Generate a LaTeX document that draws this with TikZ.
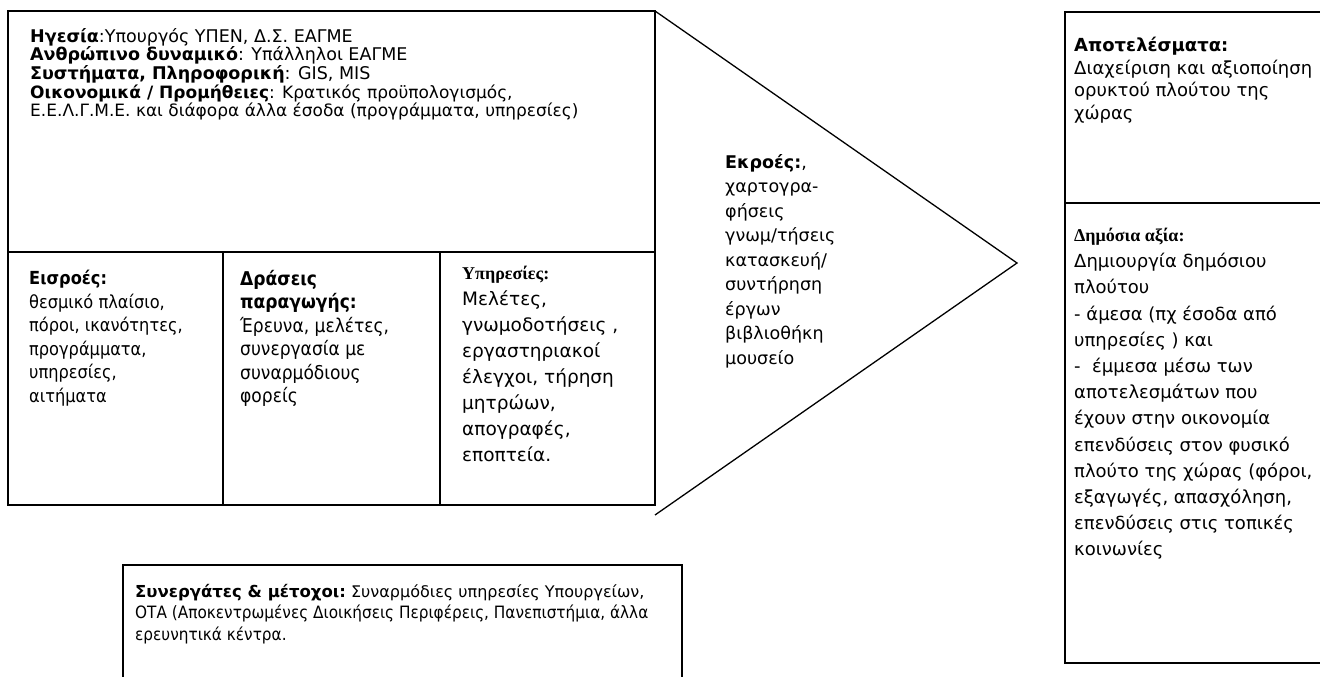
\documentclass[tikz,border=0pt]{standalone}
\usepackage{fontspec}
\setmainfont{DejaVu Sans}
\newfontfamily\tah[FakeStretch=0.9]{DejaVu Sans}
\newfontfamily\ver{DejaVu Sans}
\newfontfamily\tms{Liberation Serif}
\begin{document}
\begin{tikzpicture}[x=1pt,y=-1pt,
  boxline/.style={line width=1.6pt,black},
  triline/.style={line width=1.3pt,black},
  txt/.style={anchor=north west,inner sep=0pt,align=left}]
\useasboundingbox (0,0) rectangle (1320,677);
% frames
\draw[boxline] (8,11) rectangle (655,505);
\draw[boxline] (8,252) -- (655,252);
\draw[boxline] (223,252) -- (223,505);
\draw[boxline] (440,252) -- (440,505);
\draw[triline] (655,11) -- (1017,263) -- (655,515);
\draw[boxline] (1335,12) -- (1065,12) -- (1065,663) -- (1335,663);
\draw[boxline] (1065,203) -- (1335,203);
\draw[boxline] (123,690) -- (123,565) -- (682,565) -- (682,690);
% texts
\node[txt,font={\ver\fontsize{17.5}{18.7}\selectfont}] (lead) at (30,28) {%
\textbf{Ηγεσία}:Υπουργός ΥΠΕΝ, Δ.Σ. ΕΑΓΜΕ\\
\textbf{Ανθρώπινο δυναμικό}: Υπάλληλοι ΕΑΓΜΕ\\
\textbf{Συστήματα, Πληροφορική}: GIS, MIS\\
{\fontsize{17}{18.7}\selectfont\textbf{Οικονομικά / Προμήθειες}: Κρατικός προϋπολογισμός,}\\
{\fontsize{17}{18.7}\selectfont Ε.Ε.Λ.Γ.Μ.Ε. και διάφορα άλλα έσοδα (προγράμματα, υπηρεσίες)}};
\node[txt,font={\tah\fontsize{18}{23.5}\selectfont}] (inputs) at (29,270) {%
\textbf{Εισροές:}\\ θεσμικό πλαίσιο,\\ πόροι, ικανότητες,\\ προγράμματα,\\ υπηρεσίες,\\ αιτήματα};
\node[txt,font={\tah\fontsize{19}{23.5}\selectfont}] (actions) at (240,270) {%
\textbf{Δράσεις}\\ \textbf{παραγωγής:}\\ Έρευνα, μελέτες,\\ συνεργασία με\\ συναρμόδιους\\ φορείς};
\node[txt,font={\ver\fontsize{18.5}{26}\selectfont}] (services) at (462,266) {%
{\tms\bfseries\fontsize{18}{26}\selectfont Υπηρεσίες:}\\ Μελέτες,\\ γνωμοδοτήσεις ,\\ εργαστηριακοί\\ έλεγχοι, τήρηση\\ μητρώων,\\ απογραφές,\\ εποπτεία.};
\node[txt,font={\ver\fontsize{17.5}{24.5}\selectfont}] (outputs) at (725,154) {%
\textbf{Εκροές:},\\ χαρτογρα-\\ φήσεις\\ γνωμ/τήσεις\\ κατασκευή/\\ συντήρηση\\ έργων\\ βιβλιοθήκη\\ μουσείο};
\node[txt,font={\ver\fontsize{18}{22.5}\selectfont}] (results) at (1074,37) {%
\textbf{Αποτελέσματα:}\\ Διαχείριση και αξιοποίηση\\ ορυκτού πλούτου της\\ χώρας};
\node[txt,font={\ver\fontsize{18}{26.2}\selectfont}] (value) at (1074,228) {%
{\tms\bfseries Δημόσια αξία:}\\ Δημιουργία δημόσιου\\ πλούτου\\ - άμεσα (πχ έσοδα από\\ υπηρεσίες ) και\\ -\ \ έμμεσα μέσω των\\ αποτελεσμάτων που\\ έχουν στην οικονομία\\ επενδύσεις στον φυσικό\\ πλούτο της χώρας (φόροι,\\ εξαγωγές, απασχόληση,\\ επενδύσεις στις τοπικές\\ κοινωνίες};
\node[txt,font={\tah\fontsize{17}{21.5}\selectfont}] (partners) at (135,584) {%
{\ver\fontsize{16.5}{21.5}\selectfont\textbf{Συνεργάτες \& μέτοχοι:}\fontsize{16}{21.5}\selectfont\ Συναρμόδιες υπηρεσίες Υπουργείων,}\\ ΟΤΑ (Αποκεντρωμένες Διοικήσεις Περιφέρεις, Πανεπιστήμια, άλλα\\ ερευνητικά κέντρα.};
\end{tikzpicture}
\end{document}
